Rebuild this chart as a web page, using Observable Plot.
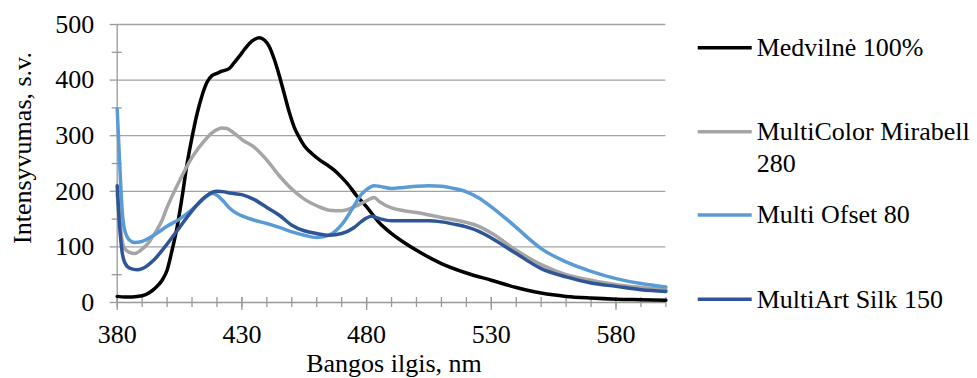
<!DOCTYPE html>
<html><head><meta charset="utf-8">
<script src="https://cdn.jsdelivr.net/npm/d3@7"></script>
<script src="https://cdn.jsdelivr.net/npm/@observablehq/plot@0.6"></script>
<style>
html,body{margin:0;padding:0;background:#fff;}
#chart{width:977px;height:378px;overflow:hidden;position:relative;}
</style></head><body><div id="chart"></div>
<script>
// ---- data ----
const seriesNames = ["Medvilnė 100%", "MultiColor Mirabell 280", "Multi Ofset 80", "MultiArt Silk 150"];
const legendLines = [["Medvilnė 100%"], ["MultiColor Mirabell", "280"], ["Multi Ofset 80"], ["MultiArt Silk 150"]];
const seriesColors = ["#000000", "#a5a5a5", "#5b9bd5", "#2f5597"];

const nmMedvilne = [380,383,386,390,393,395,398,400,402,404,406,408,410,412,414,416,418,420,422,425,427,429,431,433,435,437,439,441,443,445,447,449,451,453,455,458,461,464,467,470,473,476,478,480,485,490,495,500,510,520,530,540,550,560,570,580,590,600];
const valMedvilne = [11,10,10,12,18,25,40,58,94,135,189,249,297,339,372,396,408,412,416,421,432,443,455,466,473,476,472,460,437,408,375,342,315,297,282,268,257,248,238,225,210,192,182,172,144,124,108,94,70,53,40,27,17,11,8,6,5,4];

const nmMirabell = [380,381,382,383,385,387,390,393,395,398,400,405,410,415,418,420,422,424,427,430,435,440,445,450,455,460,465,470,475,480,483,485,490,495,500,510,520,525,530,540,550,560,570,580,590,600];
const valMirabell = [195,150,111,97,90,88,96,110,124,148,171,219,261,291,305,311,314,313,304,293,279,256,228,204,186,174,166,165,172,183,189,182,170,165,162,153,144,137,125,94,68,50,40,32,27,23];

const nmOfset = [380,381,382,383,385,387,390,395,400,405,410,415,418,420,423,425,428,430,435,440,445,450,455,460,465,470,475,478,480,483,485,490,495,500,505,510,515,520,525,530,535,540,545,550,560,570,580,590,600];
const valOfset = [348,250,165,130,112,108,110,122,137,150,167,188,196,193,180,170,160,156,148,142,135,127,121,117,121,140,174,195,203,210,209,205,207,209,210,209,205,199,188,172,154,135,115,97,73,56,43,34,28];

const nmSilk = [380,381,382,383,385,388,390,395,400,405,410,415,418,420,423,425,430,435,440,445,450,455,460,465,470,475,478,480,482,485,490,500,505,510,515,520,525,530,540,550,560,570,580,590,600];
const valSilk = [210,135,90,72,62,59,61,78,105,135,165,189,198,200,199,197,194,185,171,157,139,129,124,121,124,135,146,152,155,151,147,147,147,145,141,136,128,116,88,61,46,35,29,23,20];

const xTicks = [380,430,480,530,580];
const xMinorTicks = [380,390,400,410,420,430,440,450,460,470,480,490,500,510,520,530,540,550,560,570,580,590,600];
const yTicks = [0,100,200,300,400,500];
const yMinorTicks = [50,150,250,350,450];
const xTitle = "Bangos ilgis, nm";
const yTitle = "Intensyvumas, s.v.";

// ---- build ----
const nmLists = [nmMedvilne, nmMirabell, nmOfset, nmSilk];
const valLists = [valMedvilne, valMirabell, valOfset, valSilk];
const series = seriesNames.map((name, i) => nmLists[i].map((nm, j) => ({series: name, nm, v: valLists[i][j]})));

const FONT = "'Liberation Serif', 'Times New Roman', serif";
const W = 977, H = 378;
const mL = 116.7, mR = 311.6, mT = 24, mB = 76;
const axisGray = "#999999";

const plot = Plot.plot({
  width: W, height: H,
  marginLeft: mL, marginRight: mR, marginTop: mT, marginBottom: mB,
  style: {fontFamily: FONT, fontSize: "26px", color: "#000", background: "#fff", overflow: "visible"},
  x: {domain: [380, 600], label: null},
  y: {domain: [0, 500], label: null},
  marks: [
    Plot.gridY(yTicks.slice(1), {stroke: "#a3a3a3", strokeOpacity: 1, strokeWidth: 1.3}),
    Plot.ruleX([380], {stroke: axisGray, strokeWidth: 1.3}),
    Plot.ruleY([0], {stroke: axisGray, strokeWidth: 1.3}),
    Plot.axisY(yMinorTicks, {text: null, tickSize: 10, dx: 5, stroke: axisGray, strokeWidth: 1.3}),
    Plot.axisY(yTicks, {tickSize: 7, tickPadding: 16, stroke: axisGray, strokeWidth: 1.3, fontSize: 26, label: null}),
    Plot.axisX(xMinorTicks, {text: null, tickSize: 10, dy: -5, stroke: axisGray, strokeWidth: 1.3}),
    Plot.axisX(xTicks, {tickSize: 13, dy: -5, tickPadding: 14, stroke: axisGray, strokeWidth: 1.3, fontSize: 26, label: null}),
    ...series.map((rows, i) => Plot.line(rows, {x: "nm", y: "v", stroke: seriesColors[i], strokeWidth: 3.5, curve: "monotone-x", strokeLinejoin: "round"}))
  ]
});

document.getElementById("chart").appendChild(plot);

const svg = d3.select(plot);
// axis titles
svg.append("text").attr("x", 394).attr("y", 372).attr("text-anchor", "middle")
  .style("font-family", FONT).style("font-size", "26px").attr("fill", "#000").text(xTitle);
svg.append("text").attr("transform", "translate(31,148) rotate(-90)").attr("text-anchor", "middle")
  .style("font-family", FONT).style("font-size", "26px").attr("fill", "#000").text(yTitle);

// legend
const legendY = [47.7, 131.7, 215, 299.3];
const lg = svg.append("g").attr("text-anchor", "start");
legendLines.forEach((lines, i) => {
  lg.append("line").attr("x1", 697.7).attr("x2", 751.7).attr("y1", legendY[i]).attr("y2", legendY[i])
    .attr("stroke", seriesColors[i]).attr("stroke-width", 3.5);
  const t = lg.append("text").attr("x", 756.7).attr("y", legendY[i] + 8.3).attr("text-anchor", "start")
    .style("font-family", FONT).style("font-size", "26px").attr("fill", "#000");
  lines.forEach((s, k) => t.append("tspan").attr("x", 756.7).attr("dy", k === 0 ? 0 : 32).text(s));
});
</script></body></html>
